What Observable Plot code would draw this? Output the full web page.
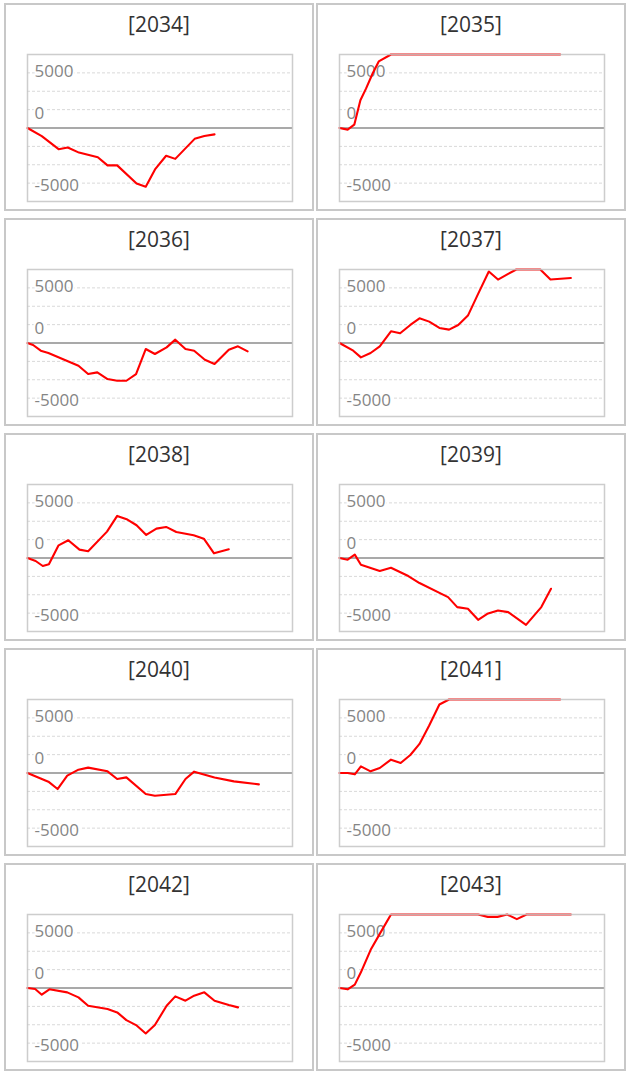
<!DOCTYPE html>
<html>
<head>
<meta charset="utf-8">
<script src="https://cdn.jsdelivr.net/npm/d3@7"></script>
<script src="https://cdn.jsdelivr.net/npm/@observablehq/plot@0.6"></script>
<style>
  html, body { margin: 0; padding: 0; background: #fff; }
  #root { position: relative; width: 630px; height: 1072px; font-family: "Open Sans", sans-serif; }
  .panel { position: absolute; width: 310px; height: 208px; box-sizing: border-box; border: 2px solid #c8c8c8; background: #fff; }
  .title { position: absolute; left: 0; right: 0; top: 6px; text-align: center; font-size: 21px; line-height: 26px; color: #333; }
  .panel svg { position: absolute; left: 0; top: 40px; }
</style>
</head>
<body>
<div id="root"></div>
<script>
// ---- data (x = week of year, y = value) ----
const years = [2034, 2035, 2036, 2037, 2038, 2039, 2040, 2041, 2042, 2043];

const weeks2034 = [0, 2.8, 6.1, 7.9, 10.1, 13.8, 15.7, 17.6, 21.4, 23.2, 25.1, 27.2, 29.0, 32.8, 34.7, 36.7];
const values2034 = [0, -730, -1920, -1770, -2230, -2650, -3390, -3390, -5030, -5330, -3700, -2515, -2800, -985, -727, -576];

const weeks2035 = [0, 1.6, 2.9, 4.1, 5.2, 6.5, 7.7, 10.1, 15.0, 20.0, 25.0, 30.0, 35.0, 40.0, 43.3];
const values2035 = [0, -150, 300, 2515, 3570, 4940, 6040, 6700, 7400, 8000, 8500, 8800, 9000, 9200, 9300];

const weeks2036 = [0, 1.1, 2.6, 4.1, 10.0, 11.9, 13.7, 15.7, 17.6, 19.4, 21.3, 23.2, 25.0, 27.3, 29.0, 31.0, 32.7, 34.8, 36.7, 39.5, 41.3, 43.2];
const values2036 = [0, -182, -697, -909, -2060, -2818, -2666, -3273, -3424, -3424, -2818, -545, -1000, -394, 303, -545, -697, -1515, -1909, -606, -303, -758];

const weeks2037 = [0, 2.7, 4.2, 6.1, 7.9, 10.1, 11.9, 13.9, 15.7, 17.6, 19.6, 21.5, 23.3, 25.2, 27.2, 29.3, 31.1, 33.1, 34.7, 37.0, 39.4, 41.4, 45.4];
const values2037 = [0, -697, -1303, -909, -303, 1060, 879, 1636, 2242, 1939, 1364, 1212, 1636, 2485, 4454, 6480, 5754, 6272, 6700, 7100, 6700, 5754, 5900];

const weeks2038 = [0, 1.6, 3.0, 4.2, 6.1, 8.0, 10.2, 11.9, 15.6, 17.6, 19.6, 21.4, 23.3, 25.3, 27.2, 29.2, 32.6, 34.6, 36.6, 39.5];
const values2038 = [0, -273, -727, -576, 1151, 1606, 758, 606, 2393, 3818, 3485, 2970, 2090, 2666, 2818, 2363, 2060, 1757, 424, 788];

const weeks2039 = [0, 1.6, 3.0, 4.2, 7.9, 10.1, 13.5, 15.7, 21.3, 23.1, 25.2, 27.2, 29.0, 31.1, 33.1, 36.6, 39.6, 41.5];
const values2039 = [0, -152, 303, -606, -1182, -879, -1636, -2272, -3545, -4454, -4606, -5606, -5060, -4757, -4909, -6060, -4454, -2788];

const weeks2040 = [0, 4.1, 5.9, 7.8, 10.0, 11.9, 15.7, 17.6, 19.4, 23.2, 25.0, 29.0, 31.0, 32.7, 36.7, 40.5, 45.4];
const values2040 = [0, -788, -1454, -242, 303, 485, 152, -545, -394, -1909, -2060, -1909, -545, 121, -400, -760, -1030];

const weeks2041 = [0, 1.6, 3.0, 4.2, 6.1, 7.9, 10.1, 12.0, 13.9, 15.7, 17.6, 19.6, 21.5, 25.0, 30.0, 35.0, 40.0, 43.3];
const values2041 = [0, 0, -121, 606, 152, 454, 1212, 909, 1636, 2636, 4303, 6212, 6800, 7500, 8000, 8500, 8800, 9000];

const weeks2042 = [0, 1.5, 2.8, 4.3, 7.8, 10.0, 11.9, 15.7, 17.6, 19.4, 21.3, 23.2, 25.0, 27.3, 29.0, 31.0, 32.7, 34.7, 36.7, 39.5, 41.3];
const values2042 = [0, -91, -606, -121, -394, -848, -1606, -1909, -2212, -2909, -3363, -4121, -3363, -1606, -758, -1151, -697, -394, -1151, -1545, -1757];

const weeks2043 = [0, 1.6, 3.0, 4.2, 6.2, 7.9, 10.1, 15.0, 20.0, 25.0, 27.2, 29.1, 31.0, 32.9, 34.8, 36.7, 40.0, 45.4];
const values2043 = [0, -121, 303, 1424, 3545, 4909, 6800, 7500, 8000, 7600, 7000, 6450, 6450, 7000, 6250, 7000, 7500, 8000];

const yTickValues = [5000, 0, -5000];
const yTickLabels = ["5000", "0", "-5000"];

// ---- chart ----
const series = {
  2034: [weeks2034, values2034], 2035: [weeks2035, values2035],
  2036: [weeks2036, values2036], 2037: [weeks2037, values2037],
  2038: [weeks2038, values2038], 2039: [weeks2039, values2039],
  2040: [weeks2040, values2040], 2041: [weeks2041, values2041],
  2042: [weeks2042, values2042], 2043: [weeks2043, values2043]
};

const yMax = 5000 * 4 / 3;
const gridValues = [-3, -2, -1, 1, 2, 3].map(k => k * 5000 / 3);
const labelDy = [-1, -14.5, 2];

function makePanel(year) {
  const [wk, vals] = series[year];
  const data = wk.map((w, i) => ({w, v: vals[i]}));
  const labelMarks = yTickValues.map((t, i) =>
    Plot.text([t], {
      y: d => d, text: () => yTickLabels[i],
      frameAnchor: "left", textAnchor: "start", dx: 7, dy: labelDy[i],
      fill: "#858585", fontSize: 17, stroke: "white", strokeWidth: 4
    })
  );
  return Plot.plot({
    width: 306, height: 170,
    marginLeft: 21, marginRight: 20, marginTop: 9, marginBottom: 14,
    x: {domain: [0, 52], axis: null},
    y: {domain: [-yMax, yMax], axis: null, clamp: true},
    style: {fontFamily: '"Open Sans", sans-serif', background: "transparent", overflow: "visible"},
    marks: [
      Plot.ruleY(gridValues, {stroke: "#d9d9d9", strokeWidth: 1, strokeDasharray: "3,2"}),
      Plot.ruleY([0], {stroke: "#8c8c8c", strokeWidth: 1.5}),
      ...labelMarks,
      Plot.line(data, {x: "w", y: "v", stroke: "#ff0000", strokeWidth: 2.1}),
      Plot.frame({stroke: "#c4c4c4", strokeOpacity: 0.85, strokeWidth: 1.5})
    ]
  });
}

const root = document.getElementById("root");
years.forEach((year, i) => {
  const col = i % 2, row = Math.floor(i / 2);
  const div = document.createElement("div");
  div.className = "panel";
  div.style.left = (4 + col * 312) + "px";
  div.style.top = (3 + row * 215) + "px";
  const title = document.createElement("div");
  title.className = "title";
  title.textContent = "[" + year + "]";
  div.appendChild(title);
  div.appendChild(makePanel(year));
  root.appendChild(div);
});
</script>
</body>
</html>
